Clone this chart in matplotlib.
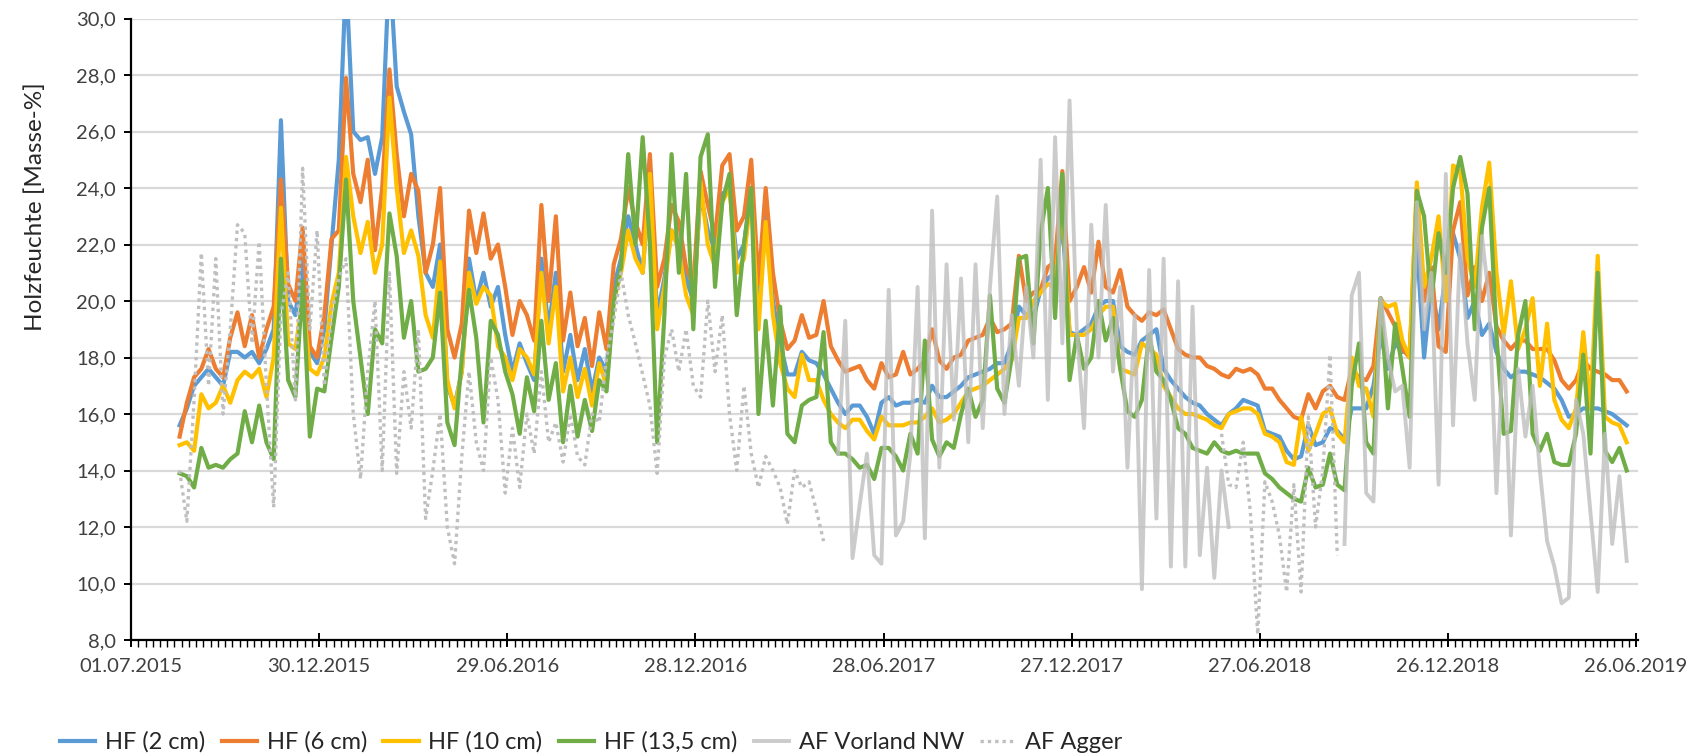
import numpy as np
import pandas as pd
import matplotlib
matplotlib.use("Agg")
import matplotlib.pyplot as plt
import matplotlib.dates as mdates
from matplotlib.ticker import FuncFormatter, MultipleLocator

plt.rcParams['font.family'] = ['Lato', 'DejaVu Sans']

# weekly readings, first week 17.08.2015
start = "2015-08-17"

hf_2cm = [
    15.6, 16.2, 17.0, 17.3, 17.6, 17.3, 17.0, 18.2, 18.2, 18.0, 18.2, 17.8, 18.3, 19.0, 26.4, 20.0, 19.5, 21.5, 18.2, 17.8,
    19.0, 22.0, 25.0, 31.5, 26.0, 25.7, 25.8, 24.5, 25.8, 32.0, 27.6, 26.7, 25.9, 23.0, 21.0, 20.5, 22.0, 17.0, 16.3, 17.5,
    21.5, 20.0, 21.0, 19.8, 20.5, 18.8, 17.5, 18.5, 17.8, 17.2, 21.5, 19.0, 21.0, 17.5, 18.8, 17.2, 18.3, 16.8, 18.0, 17.5,
    20.5, 21.5, 23.0, 22.0, 21.0, 24.5, 19.5, 20.8, 22.5, 22.0, 20.8, 20.0, 23.8, 22.5, 21.8, 23.8, 24.0, 21.5, 22.0, 24.0,
    19.5, 23.0, 20.0, 18.5, 17.4, 17.4, 18.2, 17.9, 17.8, 17.4, 16.9, 16.4, 16.0, 16.3, 16.3, 15.9, 15.3, 16.4, 16.6, 16.3,
    16.4, 16.4, 16.5, 16.4, 17.0, 16.6, 16.6, 16.8, 17.0, 17.3, 17.4, 17.5, 17.6, 17.8, 17.8, 18.5, 19.8, 19.5, 19.4, 20.4,
    20.8, 21.0, 22.8, 18.9, 18.8, 19.0, 19.2, 19.8, 20.0, 20.0, 18.4, 18.2, 18.1, 18.6, 18.8, 19.0, 17.6, 17.2, 16.9, 16.6,
    16.4, 16.3, 16.0, 15.8, 15.6, 16.0, 16.2, 16.5, 16.4, 16.3, 15.4, 15.3, 15.2, 14.7, 14.4, 14.5, 15.6, 14.9, 15.0, 15.5,
    15.4, 15.1, 16.2, 16.2, 16.2, 17.0, 18.8, 17.6, 18.5, 18.2, 18.2, 22.0, 18.0, 20.6, 19.0, 21.0, 22.4, 21.5, 19.4, 20.0,
    18.8, 19.2, 18.2, 17.6, 17.3, 17.5, 17.5, 17.4, 17.3, 17.1, 16.9, 16.5, 15.9, 16.0, 16.2, 16.2, 16.2, 16.1, 16.0, 15.8,
    15.6,
]

hf_6cm = [
    15.2, 16.4, 17.3, 17.6, 18.3, 17.6, 17.3, 18.7, 19.6, 18.4, 19.5, 18.0, 19.0, 19.8, 24.3, 20.6, 20.0, 22.6, 18.4, 18.0,
    19.5, 22.2, 22.5, 27.9, 24.5, 23.5, 25.0, 21.8, 24.0, 28.2, 25.2, 23.0, 24.5, 23.9, 21.0, 22.0, 24.0, 19.0, 18.0, 19.2,
    23.2, 21.7, 23.1, 21.5, 22.0, 20.5, 18.8, 20.0, 19.5, 18.6, 23.4, 20.0, 23.0, 18.6, 20.3, 18.4, 19.4, 17.7, 19.6, 18.3,
    21.3, 22.2, 24.0, 22.8, 22.0, 25.2, 20.5, 21.5, 23.4, 22.8, 21.2, 20.5, 24.6, 23.4, 22.3, 24.8, 25.2, 22.5, 23.0, 25.0,
    20.6, 24.0, 21.0, 19.3, 18.3, 18.6, 19.5, 18.7, 18.8, 20.0, 18.4, 17.9, 17.5, 17.6, 17.7, 17.2, 16.9, 17.8, 17.3, 17.4,
    18.2, 17.4, 17.6, 17.9, 19.0, 17.9, 17.6, 18.0, 18.1, 18.6, 18.7, 18.8, 19.4, 18.9, 19.0, 19.2, 21.6, 20.0, 20.3, 20.4,
    21.2, 21.4, 24.6, 20.0, 20.5, 21.2, 20.3, 22.1, 20.5, 20.3, 21.1, 19.8, 19.5, 19.3, 19.6, 19.5, 19.7, 19.0, 18.3, 18.1,
    18.0, 18.0, 17.7, 17.6, 17.4, 17.3, 17.6, 17.5, 17.6, 17.4, 16.9, 16.9, 16.5, 16.2, 15.9, 15.8, 16.7, 16.2, 16.8, 17.0,
    16.6, 16.5, 17.6, 17.3, 17.2, 17.7, 20.1, 19.6, 19.1, 18.3, 18.0, 24.0, 20.0, 21.2, 18.4, 18.2, 22.5, 23.5, 20.2, 21.2,
    20.0, 21.0, 19.1, 18.6, 18.3, 18.6, 18.6, 18.3, 18.3, 18.3, 17.9, 17.2, 16.9, 17.2, 17.9, 17.6, 17.5, 17.4, 17.2, 17.2,
    16.8,
]

hf_10cm = [
    14.9, 15.0, 14.7, 16.7, 16.2, 16.4, 17.0, 16.4, 17.2, 17.5, 17.3, 17.6, 16.6, 18.0, 23.3, 18.5, 18.3, 20.1, 17.6, 17.4,
    18.0, 19.9, 21.0, 25.1, 23.0, 21.7, 22.8, 21.0, 22.0, 27.2, 24.0, 21.7, 22.5, 21.6, 19.5, 18.7, 21.4, 17.2, 16.2, 17.5,
    21.0, 19.9, 20.5, 20.2, 18.4, 18.0, 17.2, 18.3, 18.0, 17.4, 21.0, 18.5, 20.5, 16.8, 18.0, 16.6, 17.6, 16.3, 17.8, 17.0,
    20.0, 21.0, 22.5, 21.5, 21.0, 24.5, 19.0, 20.5, 22.5, 21.8, 20.2, 19.5, 24.2, 22.0, 21.2, 23.5, 24.0, 21.0, 21.5, 23.8,
    19.0, 22.8, 19.5, 17.8, 16.9, 16.6, 18.1, 17.2, 17.2, 16.5, 16.0, 15.7, 15.5, 15.8, 15.8, 15.4, 15.1, 15.9, 15.6, 15.6,
    15.6, 15.7, 15.7, 15.9, 16.2, 15.7, 15.8, 16.0, 16.4, 16.8, 16.9, 17.0, 17.2, 17.4, 17.6, 17.9, 19.4, 19.4, 20.0, 20.3,
    20.6, 20.5, 23.5, 18.8, 18.8, 18.8, 19.0, 19.5, 19.8, 19.8, 17.6, 17.5, 17.4, 18.5, 18.3, 18.1, 17.0, 16.6, 16.2, 16.0,
    16.0, 15.9, 15.8, 15.6, 15.5, 16.0, 16.1, 16.2, 16.2, 16.0, 15.3, 15.2, 15.0, 14.3, 14.2, 15.9, 14.7, 15.3, 16.0, 16.2,
    15.3, 15.0, 18.0, 17.0, 16.9, 15.9, 20.0, 19.8, 19.9, 18.6, 18.0, 24.2, 20.5, 21.5, 23.0, 20.0, 24.8, 24.6, 21.5, 20.5,
    23.3, 24.9, 21.0, 18.8, 20.7, 18.3, 19.0, 20.1, 17.0, 19.2, 16.5, 15.8, 15.5, 16.2, 18.9, 16.2, 21.6, 15.9, 15.7, 15.6,
    15.0,
]

hf_135cm = [
    13.9, 13.8, 13.4, 14.8, 14.1, 14.2, 14.1, 14.4, 14.6, 16.1, 15.0, 16.3, 15.0, 14.4, 21.5, 17.2, 16.6, 20.7, 15.2, 16.9,
    16.8, 18.7, 20.5, 24.3, 20.0, 18.0, 16.0, 19.0, 18.5, 23.1, 21.6, 18.7, 20.0, 17.5, 17.6, 18.0, 20.3, 15.7, 14.9, 18.0,
    20.4, 18.7, 15.7, 19.3, 18.8, 17.5, 16.7, 15.3, 17.3, 16.1, 19.3, 16.5, 17.8, 15.0, 17.0, 15.2, 16.5, 15.4, 17.2, 16.8,
    20.0, 21.2, 25.2, 22.0, 25.8, 22.0, 15.0, 19.5, 25.2, 21.0, 24.5, 19.0, 25.1, 25.9, 20.5, 23.5, 24.5, 19.5, 22.0, 24.0,
    16.0, 19.3, 16.3, 19.8, 15.3, 15.0, 16.3, 16.5, 16.6, 18.9, 15.0, 14.6, 14.6, 14.4, 14.1, 14.2, 13.7, 14.8, 14.8, 14.5,
    14.0, 15.3, 14.6, 18.6, 15.1, 14.5, 15.0, 14.8, 16.0, 16.9, 15.9, 16.5, 20.2, 16.9, 16.4, 18.0, 21.5, 21.6, 18.5, 22.4,
    24.0, 19.4, 24.5, 17.2, 18.8, 17.6, 18.0, 20.0, 18.6, 19.4, 17.6, 16.1, 15.9, 16.5, 18.8, 17.5, 17.2, 16.5, 15.5, 15.3,
    14.8, 14.7, 14.6, 15.0, 14.7, 14.6, 14.7, 14.6, 14.6, 14.6, 13.9, 13.7, 13.4, 13.2, 13.0, 12.9, 14.1, 13.4, 13.5, 14.6,
    13.5, 13.3, 17.0, 18.5, 15.0, 14.6, 20.1, 16.2, 19.2, 17.6, 15.9, 23.9, 23.0, 20.0, 22.4, 21.0, 24.0, 25.1, 23.8, 19.0,
    22.6, 24.0, 18.8, 15.3, 15.4, 18.8, 20.0, 15.3, 14.7, 15.3, 14.3, 14.2, 14.2, 15.3, 18.1, 14.6, 21.0, 14.7, 14.3, 14.8,
    14.0,
]

# AF Agger: 17.08.2015 - 09.05.2017 and 21.05.2018 - 10.09.2018
agger_a = [
    14.0, 12.2, 16.5, 21.7, 17.0, 21.5, 16.0, 19.0, 22.7, 22.4, 18.5, 22.1, 17.0, 12.7, 19.5, 21.0, 16.5, 24.7, 19.0, 22.5,
    17.0, 19.5, 20.8, 21.5, 16.0, 13.7, 17.5, 20.0, 14.0, 21.0, 13.9, 17.5, 15.5, 19.0, 12.3, 14.0, 16.0, 12.0, 10.7, 14.5,
    17.5, 15.0, 14.0, 18.0, 16.5, 13.2, 15.5, 13.4, 16.0, 14.6, 17.5, 15.0, 15.7, 14.3, 16.0, 14.5, 14.2, 16.0, 15.7, 18.0,
    19.3, 21.0, 19.5, 18.5, 17.4, 16.3, 13.9, 18.0, 19.0, 17.5, 19.0, 17.0, 16.6, 20.0, 17.5, 19.5, 16.0, 14.0, 17.0, 14.6,
    13.4, 14.5, 14.0, 13.4, 12.1, 14.0, 13.4, 13.6, 12.6, 11.5,
]
agger_b = [15.3, 13.5, 13.4, 15.0, 12.5, 8.2, 13.6, 12.9, 11.7, 9.7, 13.5, 9.7, 15.9, 12.0, 14.0, 18.1, 11.0]

# AF Vorland NW: 15.05.2017 - 21.05.2018 and 17.09.2018 - 17.06.2019
vorland_a = [
    14.6, 19.3, 10.9, 12.8, 14.6, 11.0, 10.7, 20.4, 11.7, 12.2, 14.6, 20.5, 11.6, 23.2, 14.1, 21.3, 15.8, 20.8, 15.0, 21.3,
    15.5, 20.5, 23.7, 16.0, 19.5, 17.0, 20.5, 18.0, 25.0, 16.5, 25.8, 18.5, 27.1, 19.0, 15.5, 22.7, 18.0, 23.4, 17.5, 20.5,
    14.1, 19.5, 9.8, 21.1, 12.3, 21.5, 10.6, 20.7, 10.6, 19.8, 11.0, 14.1, 10.2, 14.0, 12.0,
]
vorland_b = [
    11.4, 20.2, 21.0, 13.2, 12.9, 20.1, 18.0, 16.8, 17.0, 14.1, 23.5, 19.0, 21.0, 13.5, 24.5, 15.6, 22.0, 18.5, 16.5, 22.3,
    20.0, 13.2, 18.8, 11.7, 17.6, 15.2, 17.0, 14.0, 11.5, 10.6, 9.3, 9.5, 16.5, 15.3, 12.5, 9.7, 15.3, 11.4, 13.8, 10.8,
]


def weeks(first, values):
    return pd.date_range(first, periods=len(values), freq="7D")


fig = plt.figure(figsize=(17.04, 7.56), dpi=100)
ax = fig.add_axes([0.0769, 0.1534, 0.8844, 0.8221])

lw = 3.0
ax.plot(weeks(start, hf_2cm), hf_2cm, color="#5B9BD5", lw=lw, label="HF (2 cm)")
ax.plot(weeks(start, hf_6cm), hf_6cm, color="#ED7D31", lw=lw, label="HF (6 cm)")
ax.plot(weeks(start, hf_10cm), hf_10cm, color="#FFC000", lw=lw, label="HF (10 cm)")
ax.plot(weeks(start, hf_135cm), hf_135cm, color="#70AD47", lw=lw, label="HF (13,5 cm)")

gray = "#BFBFBF"
ax.plot(weeks("2017-05-15", vorland_a), vorland_a, color=gray, lw=2.8, alpha=0.8, label="AF Vorland NW")
ax.plot(weeks("2018-09-17", vorland_b), vorland_b, color=gray, lw=2.8, alpha=0.8)
ax.plot(weeks(start, agger_a), agger_a, color=gray, lw=2.4, ls=(0, (1, 1.2)), label="AF Agger")
ax.plot(weeks("2018-05-21", agger_b), agger_b, color=gray, lw=2.4, ls=(0, (1, 1.2)))

# axes
ax.set_ylim(8, 30)
ax.set_xlim(pd.Timestamp("2015-07-01"), pd.Timestamp("2019-06-28"))
ax.yaxis.set_major_locator(MultipleLocator(2))
ax.yaxis.set_major_formatter(FuncFormatter(lambda v, p: f"{v:.1f}".replace(".", ",")))

major = pd.date_range("2015-07-01", "2019-06-28", freq="182D")
minor = pd.date_range("2015-07-01", "2019-06-28", freq="7D")
ax.set_xticks(major)
ax.set_xticks(minor, minor=True)
ax.xaxis.set_major_formatter(mdates.DateFormatter("%d.%m.%Y"))

ax.grid(axis="y", color="#D9D9D9", lw=1.6)
ax.set_axisbelow(True)
for s in ["top", "right"]:
    ax.spines[s].set_visible(False)
for s in ["left", "bottom"]:
    ax.spines[s].set_color("black")
    ax.spines[s].set_linewidth(1.6)

ax.tick_params(axis="y", direction="out", length=5, width=1.4, labelsize=14.5, colors="black", labelcolor="#404040", pad=6)
ax.tick_params(axis="x", which="major", direction="inout", length=10, width=1.4, labelsize=14.5, labelcolor="#404040", pad=8)
ax.tick_params(axis="x", which="minor", direction="out", length=5, width=1.0)

fig.text(0.0205, 0.727, "Holzfeuchte [Masse-%]", rotation=90, ha="center", va="center", fontsize=17.5, color="#262626")

fig.legend(loc="center", bbox_to_anchor=(0.347, 0.0185), ncol=6, frameon=False, fontsize=17,
           handlelength=1.5, columnspacing=0.7, handletextpad=0.4, labelcolor="#262626")

fig.savefig("out.png", dpi=100)
